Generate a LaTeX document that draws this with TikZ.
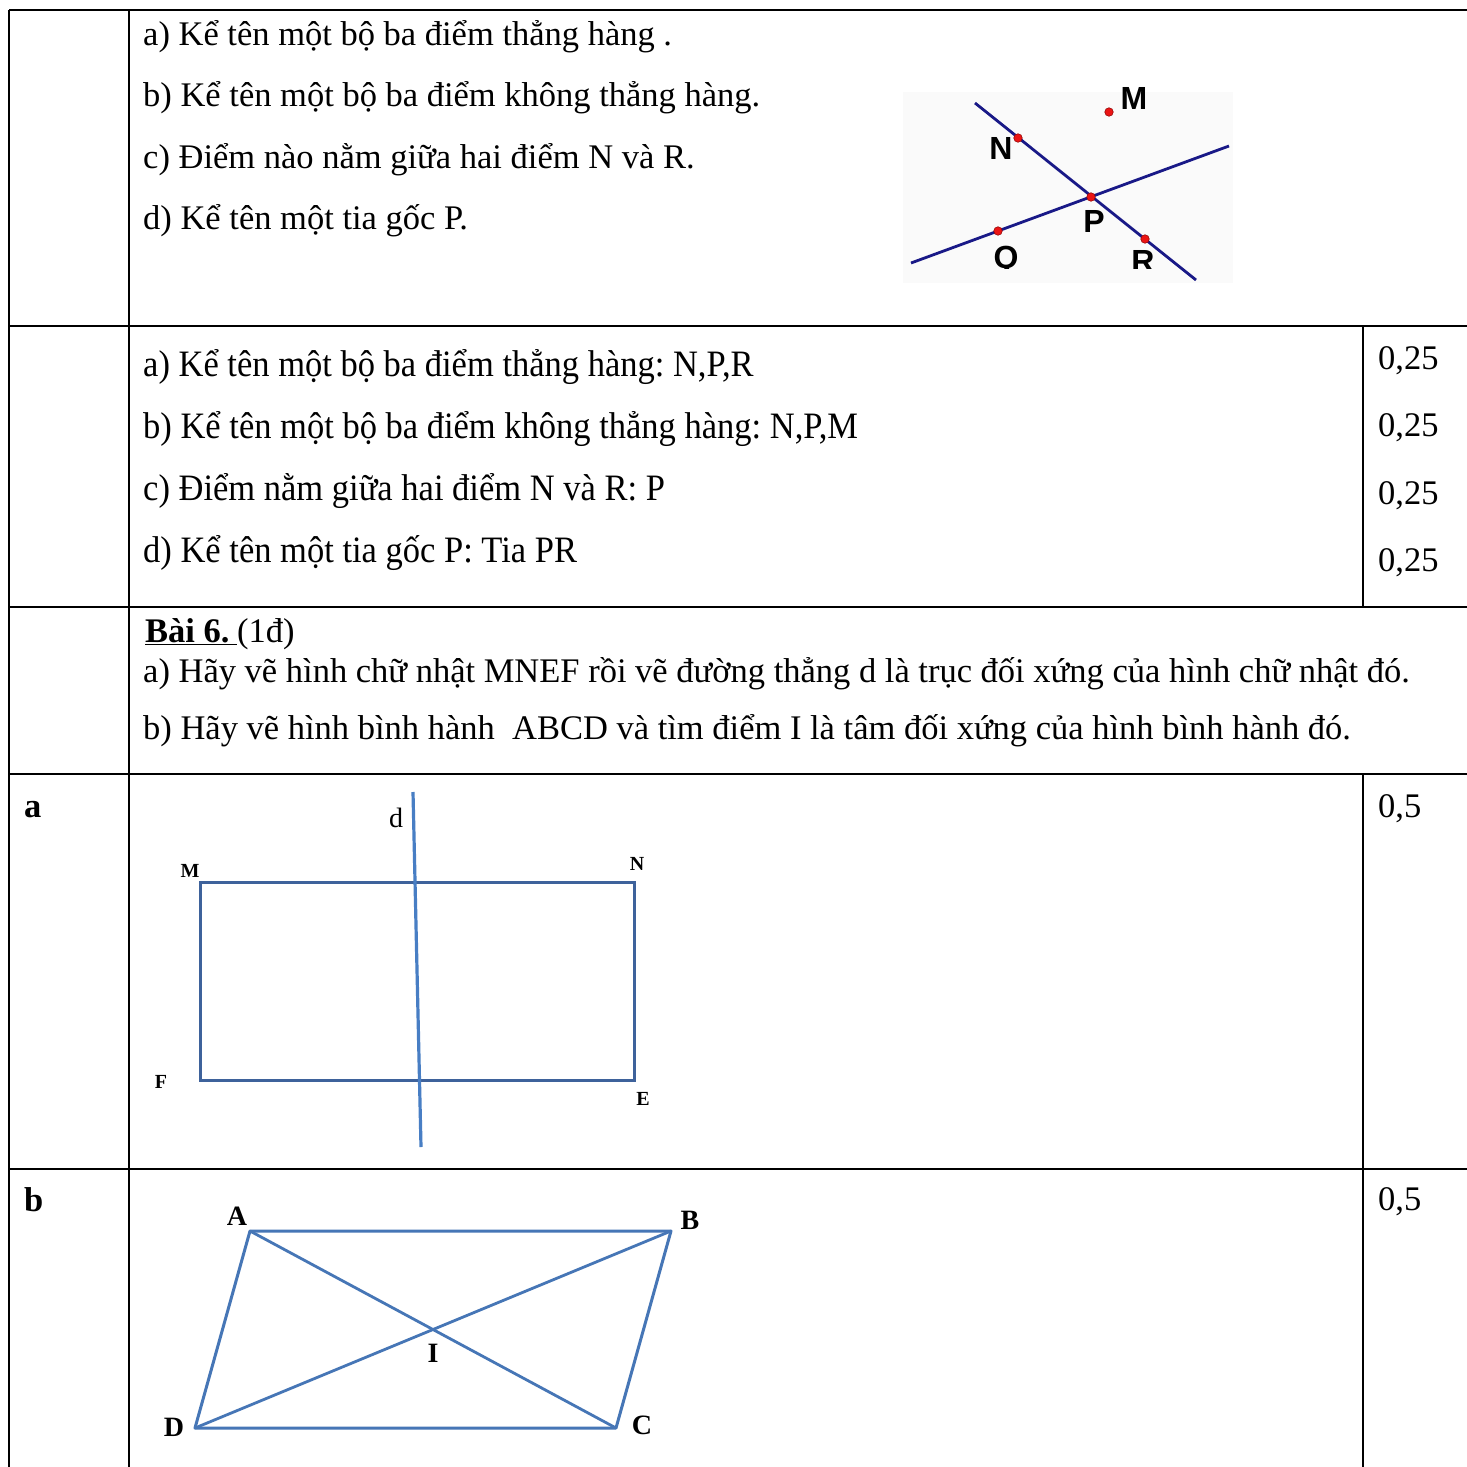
\documentclass[tikz,border=0pt]{standalone}
\usepackage{fontspec}
\setmainfont{Liberation Serif}
\newfontfamily\figsans{Liberation Sans}
\definecolor{navyline}{RGB}{25,25,135}
\definecolor{dotred}{RGB}{235,20,20}
\definecolor{dotedge}{RGB}{150,10,10}
\definecolor{rectblue}{RGB}{62,98,155}
\definecolor{dblue}{RGB}{72,126,196}
\definecolor{parblue}{RGB}{70,118,182}
\frenchspacing
\begin{document}
\begin{tikzpicture}[x=1pt,y=-1pt,
  grid/.style={line width=2.6pt,black},
  txt/.style={anchor=base west,inner sep=0pt,font=\fontsize{34.5}{40}\selectfont},
  score/.style={anchor=base west,inner sep=0pt,font=\fontsize{34.5}{40}\selectfont},
  flab/.style={inner sep=0pt,font=\figsans\bfseries\fontsize{32}{36}\selectfont},
  rlab/.style={inner sep=0pt,font=\bfseries\fontsize{20}{23}\selectfont},
  plab/.style={inner sep=0pt,font=\bfseries\fontsize{28}{32}\selectfont},
  pt/.style={circle,fill=dotred,draw=dotedge,line width=0.6pt,inner sep=0pt,minimum size=8.5pt}
]
\useasboundingbox (0,0) rectangle (1467,1467);
\fill[white] (0,0) rectangle (1467,1467);

% ---------- table grid ----------
\draw[grid] (9,10) -- (1467,10);
\draw[grid] (9,10) -- (9,1467);
\draw[grid] (129,10) -- (129,1467);
\draw[grid] (9,326) -- (1467,326);
\draw[grid] (9,607) -- (1467,607);
\draw[grid] (9,774) -- (1467,774);
\draw[grid] (9,1169) -- (1467,1169);
\draw[grid] (1363,326) -- (1363,607);
\draw[grid] (1363,774) -- (1363,1467);

% ---------- row 1 ----------
\node[txt] (q1a) at (143,45) {a) Kể tên một bộ ba điểm thẳng hàng .};
\node[txt] (q1b) at (143,106) {b) Kể tên một bộ ba điểm không thẳng hàng.};
\node[txt] (q1c) at (143,168) {c) Điểm nào nằm giữa hai điểm N và R.};
\node[txt] (q1d) at (143,229) {d) Kể tên một tia gốc P.};

% figure 1
\fill[black!2] (903,92) rectangle (1233,283);
\coordinate (L1s) at (975,103);
\coordinate (L1e) at (1196,280);
\coordinate (L2s) at (911,263);
\coordinate (L2e) at (1229,146);
\draw[navyline,line width=2.8pt] (L1s) -- (L1e);
\draw[navyline,line width=2.8pt] (L2s) -- (L2e);
\node[pt] (pN) at (1018,138) {};
\node[pt] (pP) at (1091,197) {};
\node[pt] (pQ) at (998,231) {};
\node[pt] (pR) at (1145,239) {};
\node[pt] (pM) at (1109,112) {};
\begin{scope}
\clip (903,80) rectangle (1240,268);
\node[flab] (lM) at (1134,98) {M};
\node[flab] (lN) at (1001,148) {N};
\node[flab] (lP) at (1094,221) {P};
\node[flab] (lQ) at (1006,260) {Q};
\node[flab] (lR) at (1143,261) {R};
\end{scope}

% ---------- row 2 ----------
\node[txt] (a1a) at (143,376) {\scalebox{1}[1.08]{a) Kể tên một bộ ba điểm thẳng hàng: N,P,R}};
\node[txt] (a1b) at (143,438) {\scalebox{1}[1.08]{b) Kể tên một bộ ba điểm không thẳng hàng: N,P,M}};
\node[txt] (a1c) at (143,500) {\scalebox{1}[1.08]{c) Điểm nằm giữa hai điểm N và R: P}};
\node[txt] (a1d) at (143,562) {\scalebox{1}[1.08]{d) Kể tên một tia gốc P: Tia PR}};
\node[score] (s1) at (1378,369) {0,25};
\node[score] (s2) at (1378,436) {0,25};
\node[score] (s3) at (1378,504) {0,25};
\node[score] (s4) at (1378,571) {0,25};

% ---------- row 3 ----------
\node[txt] (b6) at (145,642) {\underline{\textbf{Bài 6.}\hspace{0.22em}}(1đ)};
\node[txt] (b6a) at (143,682) {a) Hãy vẽ hình chữ nhật MNEF rồi vẽ đường thẳng d là trục đối xứng của hình chữ nhật đó.};
\node[txt] (b6b) at (143,739) {b) Hãy vẽ hình bình hành \ ABCD và tìm điểm I là tâm đối xứng của hình bình hành đó.};

% ---------- row 4 ----------
\node[txt,font=\bfseries\fontsize{34.5}{40}\selectfont] (ra) at (24,817) {a};
\node[score] (s5) at (1378,817) {0,5};

\coordinate (M) at (200,882);
\coordinate (N) at (634,882);
\coordinate (E) at (634,1080);
\coordinate (F) at (200,1080);
\coordinate (d1) at (413,792);
\coordinate (d2) at (421,1147);
\draw[rectblue,line width=3pt,line join=miter] (M) -- (N) -- (E) -- (F) -- cycle;
\draw[dblue,line width=3.2pt] (d1) -- (d2);
\node[rlab] (lbM) at (190,871) {M};
\node[rlab] (lbN) at (637,864) {N};
\node[rlab] (lbF) at (161,1082) {F};
\node[rlab] (lbE) at (643,1099) {E};
\node[inner sep=0pt,font=\fontsize{28}{32}\selectfont] (lbd) at (396,818) {d};

% ---------- row 5 ----------
\node[txt,font=\bfseries\fontsize{34.5}{40}\selectfont] (rb) at (24,1211) {b};
\node[score] (s6) at (1378,1210) {0,5};

\coordinate (A) at (250,1231);
\coordinate (B) at (671,1231);
\coordinate (C) at (616,1428);
\coordinate (D) at (195,1428);
\draw[parblue,line width=3pt,line join=round] (A) -- (B) -- (C) -- (D) -- cycle;
\draw[parblue,line width=2.8pt] (A) -- (C);
\draw[parblue,line width=2.8pt] (B) -- (D);
\node[plab] (lbA) at (237,1216) {A};
\node[plab] (lbB) at (690,1220) {B};
\node[plab] (lbC) at (642,1425) {C};
\node[plab] (lbD) at (174,1427) {D};
\node[plab] (lbI) at (433,1353) {I};
\end{tikzpicture}
\end{document}
